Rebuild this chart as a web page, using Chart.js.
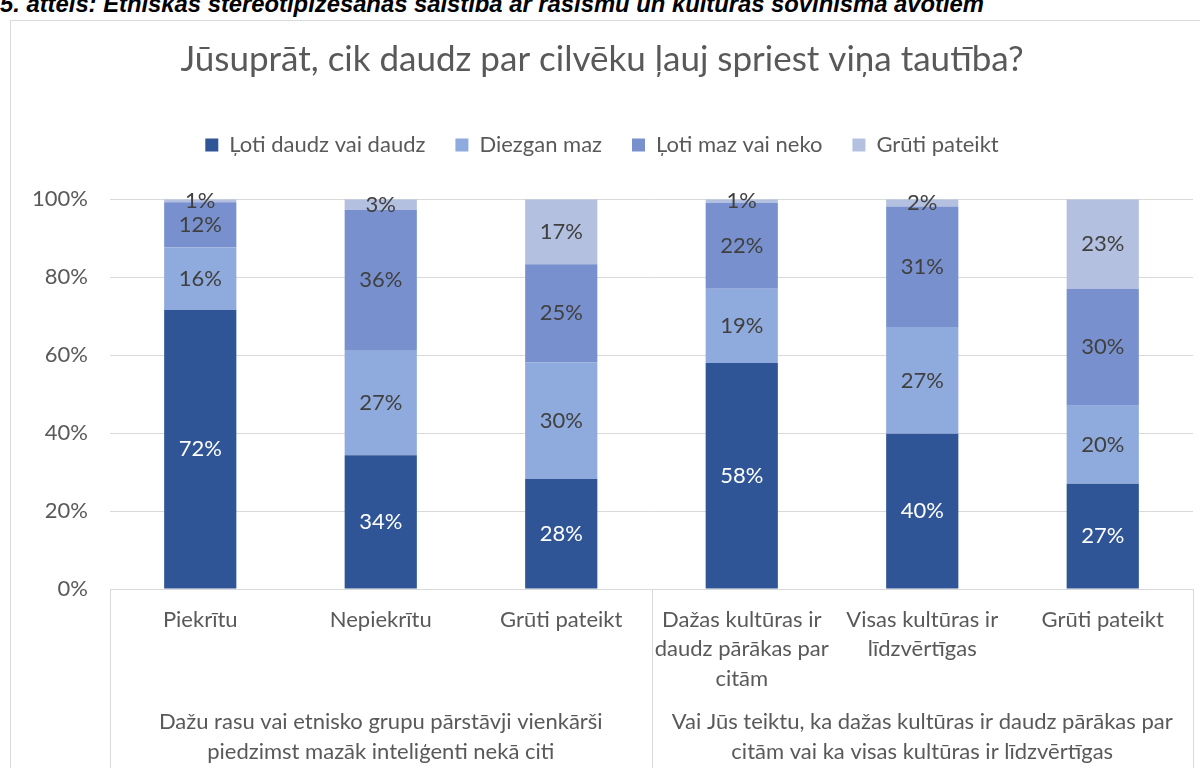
<!DOCTYPE html>
<html>
<head>
<meta charset="utf-8">
<script src="https://cdn.jsdelivr.net/npm/chart.js@4.4.1/dist/chart.umd.min.js"></script>
<style>
  html, body { margin: 0; padding: 0; width: 1200px; height: 768px; overflow: hidden; background: #fff; }
  #caption {
    position: absolute; left: 0; top: -8px; line-height: 24px;
    font-family: 'Liberation Sans Narrow', 'Liberation Sans', sans-serif;
    font-weight: bold; font-style: italic; font-size: 23.8px; color: #000;
    white-space: nowrap;
  }
  #box {
    position: absolute; left: 10px; top: 20px; width: 1200px; height: 760px;
    border: 1px solid #d9d9d9; background: #fff;
  }
</style>
</head>
<body>
<div id="caption">5. attēls: Etniskās stereotipizēšanas saistība ar rasismu un kultūras šovinisma avotiem</div>
<div id="box"><canvas id="chart" width="1200" height="760"></canvas></div>
<script>
    // categories (multi-line labels as arrays) and the two question groups
    const categories = [
        'Piekrītu',
        'Nepiekrītu',
        'Grūti pateikt',
        ['Dažas kultūras ir', 'daudz pārākas par', 'citām'],
        ['Visas kultūras ir', 'līdzvērtīgas'],
        'Grūti pateikt'
    ];
    const groupLabels = [
        ['Dažu rasu vai etnisko grupu pārstāvji vienkārši', 'piedzimst mazāk inteliģenti nekā citi'],
        ['Vai Jūs teiktu, ka dažas kultūras ir daudz pārākas par', 'citām vai ka visas kultūras ir līdzvērtīgas']
    ];
    const groupSizes = [3, 3];

    const seriesNames = ['Ļoti daudz vai daudz', 'Diezgan maz', 'Ļoti maz vai neko', 'Grūti pateikt'];
    const veryMuch = [71.6, 34.3, 28.2, 58, 39.8, 27];
    const ratherLittle = [16, 27, 30, 19, 27.4, 20];
    const veryLittle = [11.6, 36, 25.1, 22, 30.9, 30];
    const hardToSay = [0.8, 2.7, 16.7, 1, 1.9, 23];
    const yTicks = [0, 20, 40, 60, 80, 100];

    const colors = ['#2f5597', '#8faadc', '#7891ce', '#b4c0e0'];
    const labelColors = ['#ffffff', '#404040', '#404040', '#404040'];
    const textColor = '#595959';
    const lineColor = '#d9d9d9';
    const fontFamily = "Lato, 'Open Sans', sans-serif";

    // values in the middle of each segment
    const segmentLabels = {
        id: 'segmentLabels',
        afterDatasetsDraw(chart) {
            const ctx = chart.ctx;
            ctx.save();
            ctx.font = '22px ' + fontFamily;
            ctx.textAlign = 'center';
            ctx.textBaseline = 'middle';
            chart.data.datasets.forEach((ds, i) => {
                const meta = chart.getDatasetMeta(i);
                ctx.fillStyle = labelColors[i];
                meta.data.forEach((bar, j) => {
                    const y = (bar.y + bar.base) / 2;
                    ctx.fillText(Math.round(ds.data[j]) + '%', bar.x, y);
                });
            });
            ctx.restore();
        }
    };

    // Excel-like multi-level category box with group labels
    const categoryBox = {
        id: 'categoryBox',
        afterDraw(chart) {
            const ctx = chart.ctx;
            const x = chart.scales.x;
            const area = chart.chartArea;
            const bottom = chart.height;
            ctx.save();
            ctx.strokeStyle = lineColor;
            ctx.lineWidth = 1;
            ctx.beginPath();
            ctx.moveTo(area.left, area.bottom + 0.5);
            ctx.lineTo(area.right, area.bottom + 0.5);
            const edges = [area.left];
            let idx = 0;
            groupSizes.forEach(n => {
                idx += n;
                if (idx < categories.length) {
                    edges.push((x.getPixelForValue(idx - 1) + x.getPixelForValue(idx)) / 2);
                }
            });
            edges.push(area.right);
            edges.forEach(e => {
                const px = Math.round(e) + 0.5;
                ctx.moveTo(px, area.bottom);
                ctx.lineTo(px, bottom);
            });
            ctx.stroke();

            ctx.fillStyle = textColor;
            ctx.font = '22px ' + fontFamily;
            ctx.textAlign = 'center';
            ctx.textBaseline = 'middle';
            groupLabels.forEach((lines, g) => {
                const cx = (edges[g] + edges[g + 1]) / 2;
                lines.forEach((t, k) => {
                    ctx.fillText(t, cx, area.bottom + 133 + k * 30);
                });
            });
            ctx.restore();
        }
    };

    const series = [veryMuch, ratherLittle, veryLittle, hardToSay];

    new Chart(document.getElementById('chart'), {
        type: 'bar',
        data: {
            labels: categories,
            datasets: series.map((d, i) => ({
                label: seriesNames[i],
                data: d,
                backgroundColor: colors[i],
                borderWidth: 0,
                categoryPercentage: 1,
                barPercentage: 0.4
            }))
        },
        options: {
            responsive: false,
            animation: false,
            layout: { padding: { left: 0, right: 18, top: 0, bottom: 0 } },
            plugins: {
                title: {
                    display: true,
                    text: 'Jūsuprāt, cik daudz par cilvēku ļauj spriest viņa tautība?',
                    color: textColor,
                    font: { family: fontFamily, size: 35, weight: 'normal' },
                    padding: { top: 18, bottom: 23 }
                },
                // empty spacer between legend and plot area
                subtitle: {
                    display: true,
                    text: '',
                    weight: 500,
                    font: { size: 1 },
                    padding: { top: 32, bottom: 0 }
                },
                legend: {
                    position: 'top',
                    labels: {
                        color: textColor,
                        font: { family: fontFamily, size: 22 },
                        boxWidth: 13,
                        boxHeight: 13,
                        padding: 30
                    }
                },
                tooltip: { enabled: false }
            },
            scales: {
                x: {
                    stacked: true,
                    grid: { display: false, drawTicks: false },
                    border: { display: false },
                    ticks: {
                        color: textColor,
                        font: { family: fontFamily, size: 22, lineHeight: 1.34 },
                        padding: 16,
                        maxRotation: 0,
                        autoSkip: false
                    },
                    afterFit(scale) { scale.height = 192; }
                },
                y: {
                    stacked: true,
                    min: 0,
                    max: 100,
                    afterBuildTicks(scale) { scale.ticks = yTicks.map(v => ({ value: v })); },
                    grid: { color: lineColor, drawTicks: false },
                    border: { display: false },
                    ticks: {
                        color: textColor,
                        font: { family: fontFamily, size: 22 },
                        padding: 22,
                        callback: v => v + '%'
                    },
                    afterFit(scale) { scale.width = 99; }
                }
            }
        },
        plugins: [segmentLabels, categoryBox]
    });
</script>
</body>
</html>
